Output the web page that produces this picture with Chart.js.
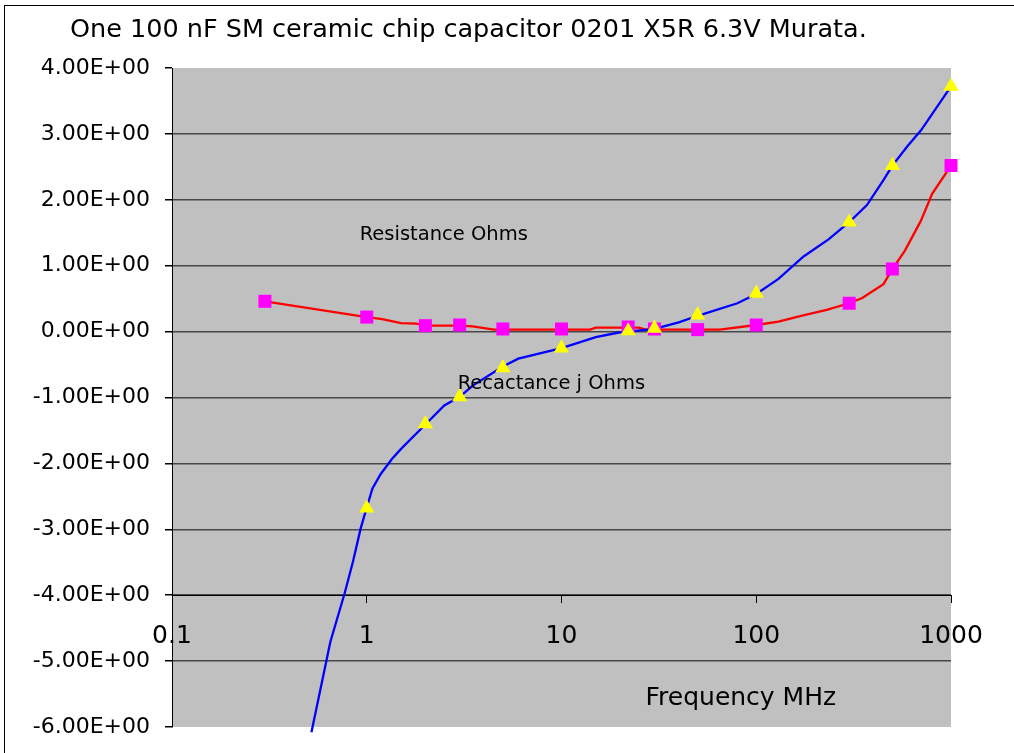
<!DOCTYPE html>
<html>
<head>
<meta charset="utf-8">
<script src="https://cdn.jsdelivr.net/npm/chart.js@4.4.0/dist/chart.umd.min.js"></script>
<style>
  html, body { margin: 0; padding: 0; background: #fff; }
  #wrap { width: 1014px; height: 753px; }
</style>
</head>
<body>
<div id="wrap"><canvas id="chart"></canvas></div>
<script>
const chartTitle = 'One 100 nF SM ceramic chip capacitor 0201 X5R 6.3V Murata.';

const xTicks = [0.1, 1, 10, 100, 1000];
const xTickLabels = ['0.1', '1', '10', '100', '1000'];

// resistance curve (red line) and measured points (magenta squares)
const resLineFreq = [0.3, 1, 1.2, 1.5, 1.8, 2, 3, 3.5, 4.5, 10, 14, 15, 25, 27, 65, 100, 130, 170, 230, 300, 350, 450, 500, 580, 700, 800, 1000];
const resLineVal  = [0.46, 0.22, 0.19, 0.13, 0.12, 0.09, 0.09, 0.08, 0.03, 0.03, 0.03, 0.06, 0.06, 0.03, 0.03, 0.10, 0.15, 0.24, 0.33, 0.43, 0.51, 0.72, 0.95, 1.23, 1.68, 2.09, 2.52];
const resMarkFreq = [0.3, 1, 2, 3, 5, 10, 22, 30, 50, 100, 300, 500, 1000];
const resMarkVal  = [0.46, 0.22, 0.09, 0.10, 0.04, 0.04, 0.07, 0.04, 0.03, 0.10, 0.43, 0.95, 2.52];

// reactance curve (blue line) and measured points (yellow triangles)
const reaLineFreq = [0.52, 0.65, 0.77, 0.85, 0.93, 1, 1.07, 1.18, 1.35, 1.5, 2, 2.5, 3, 3.5, 5, 6, 10, 15, 20, 22, 30, 40, 50, 80, 100, 130, 175, 235, 300, 370, 450, 500, 600, 700, 1000];
const reaLineVal  = [-6.08, -4.71, -3.97, -3.49, -2.99, -2.67, -2.38, -2.16, -1.93, -1.78, -1.41, -1.12, -0.99, -0.82, -0.53, -0.41, -0.25, -0.085, -0.01, 0.0, 0.04, 0.14, 0.24, 0.43, 0.57, 0.80, 1.14, 1.40, 1.66, 1.92, 2.30, 2.52, 2.82, 3.05, 3.72];
const reaMarkFreq = [1, 2, 3, 5, 10, 22, 30, 50, 100, 300, 500, 1000];
const reaMarkVal  = [-2.68, -1.40, -0.99, -0.55, -0.25, 0.01, 0.05, 0.25, 0.58, 1.66, 2.52, 3.72];

// text labels inside the plot, anchored in data units
const noteText = ['Resistance Ohms', 'Recactance j Ohms', 'Frequency MHz'];
const noteFreq = [0.92, 2.93, 27];
const noteVal  = [1.47, -0.79, -5.57];
const noteSize = [19.5, 19.5, 25];

const FONT = 'DejaVu Sans';

function pts(xs, ys) {
  return xs.map((x, i) => ({ x: x, y: ys[i] }));
}

const decor = {
  id: 'decor',
  beforeDraw(chart) {
    const { ctx, chartArea: a } = chart;
    ctx.save();
    ctx.fillStyle = '#fff';
    ctx.fillRect(0, 0, chart.width, chart.height);
    ctx.fillStyle = '#c0c0c0';
    ctx.fillRect(a.left, a.top, a.right - a.left, a.bottom - a.top);
    ctx.restore();
  },
  afterDraw(chart) {
    const { ctx, scales } = chart;
    ctx.save();
    ctx.strokeStyle = '#000';
    ctx.lineWidth = 1;
    ctx.strokeRect(4.5, 5.5, chart.width + 10, chart.height + 10);

    ctx.fillStyle = '#000';
    ctx.textBaseline = 'middle';
    ctx.textAlign = 'left';
    ctx.font = '25.5px "' + FONT + '"';
    ctx.fillText(chartTitle, 70, 30);

    noteText.forEach((t, i) => {
      ctx.font = noteSize[i] + 'px "' + FONT + '"';
      ctx.fillText(t, scales.x.getPixelForValue(noteFreq[i]), scales.y.getPixelForValue(noteVal[i]));
    });
    ctx.restore();
  }
};

new Chart(document.getElementById('chart'), {
  type: 'scatter',
  data: {
    datasets: [
      {
        label: 'Resistance',
        data: pts(resLineFreq, resLineVal),
        showLine: true,
        borderColor: '#ff0000',
        borderWidth: 2.3,
        pointRadius: 0,
        tension: 0,
        clip: false,
        order: 3
      },
      {
        label: 'Reactance',
        data: pts(reaLineFreq, reaLineVal),
        showLine: true,
        borderColor: '#0000ff',
        borderWidth: 2.3,
        pointRadius: 0,
        tension: 0,
        clip: false,
        order: 2
      },
      {
        label: 'Resistance points',
        data: pts(resMarkFreq, resMarkVal),
        pointStyle: 'rect',
        pointRadius: 9.2,
        backgroundColor: '#ff00ff',
        borderColor: '#ff00ff',
        borderWidth: 0,
        clip: false,
        order: 1
      },
      {
        label: 'Reactance points',
        data: pts(reaMarkFreq, reaMarkVal),
        pointStyle: 'triangle',
        pointRadius: 8.8,
        backgroundColor: '#ffff00',
        borderColor: '#ffff00',
        borderWidth: 0,
        clip: false,
        order: 0
      }
    ]
  },
  options: {
    responsive: true,
    maintainAspectRatio: false,
    animation: false,
    layout: { autoPadding: false, padding: { left: 0, right: 63, top: 68, bottom: 26 } },
    plugins: {
      legend: { display: false },
      tooltip: { enabled: false }
    },
    scales: {
      x: {
        type: 'logarithmic',
        min: 0.1,
        max: 1000,
        position: { y: -4 },
        afterBuildTicks: s => { s.ticks = xTicks.map(v => ({ value: v })); },
        afterFit: s => { s.height = 0; s.paddingBottom = 0; s.paddingTop = 0; },
        ticks: {
          callback: v => xTickLabels[xTicks.indexOf(v)],
          color: '#000',
          font: { family: FONT, size: 25 },
          padding: 19,
          maxRotation: 0,
          autoSkip: false
        },
        grid: { drawOnChartArea: false, tickLength: 7, tickColor: '#000' },
        border: { color: '#000', width: 1 }
      },
      y: {
        type: 'linear',
        min: -6,
        max: 4,
        afterFit: s => { s.width = 172; s.paddingBottom = 0; s.paddingTop = 0; },
        ticks: {
          stepSize: 1,
          callback: v => v.toFixed(2) + 'E+00',
          color: '#000',
          font: { family: FONT, size: 22 },
          padding: 15
        },
        grid: {
          color: c => (c.tick && (c.tick.value === 4 || c.tick.value === -6)) ? 'rgba(0,0,0,0)' : '#484848',
          lineWidth: 1.5,
          tickLength: 7,
          tickColor: '#000'
        },
        border: { color: '#000', width: 1 }
      }
    }
  },
  plugins: [decor]
});
</script>
</body>
</html>
